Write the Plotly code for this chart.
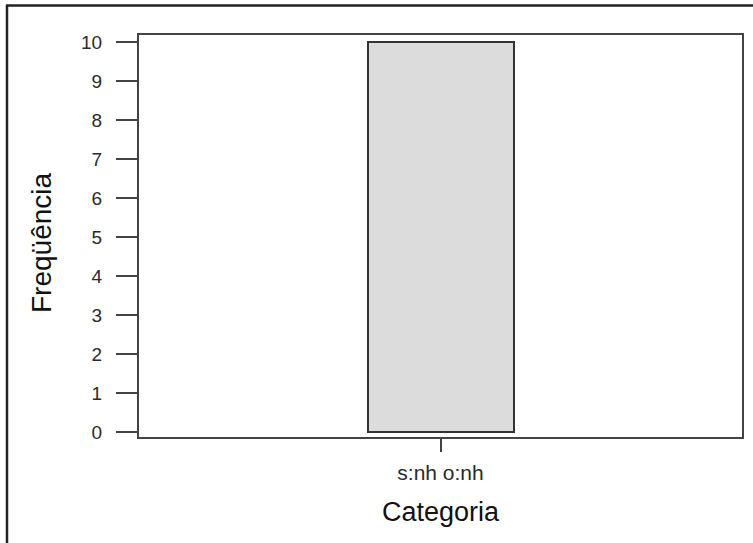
import plotly.graph_objects as go

# Frequency count per category
categorias = ["s:nh o:nh"]
frequencias = [10]
y_ticks = [0, 1, 2, 3, 4, 5, 6, 7, 8, 9, 10]

W, H = 753, 543
ML, MR, MT, MB = 139, 11, 35, 106

font_family = "Liberation Sans, Arial, sans-serif"
ink = "#222222"

fig = go.Figure(
    go.Bar(
        x=categorias,
        y=frequencias,
        width=1,
        marker=dict(color="#dcdcdc", line=dict(color="#333333", width=2)),
        hoverinfo="x+y",
    )
)

# helpers: pixel position -> paper coordinate
def px_x(px):
    return (px - ML) / (W - ML - MR)

def px_y(py):
    return 1 - (py - MT) / (H - MT - MB)

# outer frame lines (left and top edges of the figure panel)
fig.add_shape(type="line", xref="paper", yref="paper",
              x0=px_x(7), x1=px_x(7), y0=px_y(5), y1=px_y(H + 5),
              line=dict(color="#222222", width=2.5))
fig.add_shape(type="line", xref="paper", yref="paper",
              x0=px_x(6), x1=px_x(W + 5), y0=px_y(5.5), y1=px_y(5.5),
              line=dict(color="#222222", width=2.5))

# y-axis title
fig.add_annotation(text="Freqüência", xref="paper", yref="paper",
                   x=px_x(41), y=px_y(243), textangle=-90,
                   xanchor="center", yanchor="middle", showarrow=False,
                   font=dict(size=28, color="#111111", family=font_family))

fig.update_layout(
    width=W,
    height=H,
    margin=dict(l=ML, r=MR, t=MT, b=MB, autoexpand=False),
    paper_bgcolor="white",
    plot_bgcolor="white",
    showlegend=False,
    bargap=0,
    font=dict(family=font_family, color=ink),
    xaxis=dict(
        type="category",
        range=[-2.065, 2.065],
        showline=True,
        mirror=True,
        linecolor="#444444",
        linewidth=2,
        showgrid=False,
        zeroline=False,
        ticks="outside",
        ticklen=13,
        tickwidth=1.5,
        tickcolor="#444444",
        tickfont=dict(size=21, color="#2a2a2a"),
        ticklabelstandoff=3,
        title=dict(text="Categoria", font=dict(size=27, color="#111111"), standoff=19),
    ),
    yaxis=dict(
        range=[-0.128, 10.18],
        tickvals=y_ticks,
        showline=True,
        mirror=True,
        linecolor="#444444",
        linewidth=2,
        showgrid=False,
        zeroline=False,
        ticks="outside",
        ticklen=21,
        tickwidth=1.5,
        tickcolor="#444444",
        tickfont=dict(size=19, color="#2a2a2a"),
        ticklabelstandoff=10,
    ),
)

fig.write_html("out.html")
